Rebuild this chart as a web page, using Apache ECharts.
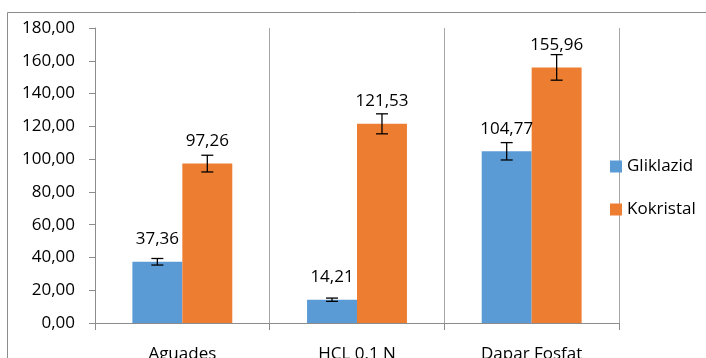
<!DOCTYPE html>
<html>
<head>
<meta charset="utf-8">
<script src="https://cdn.jsdelivr.net/npm/echarts@6/dist/echarts.min.js"></script>
<style>
  html, body { margin: 0; padding: 0; background: #fff; }
  #chart { width: 706px; height: 358px; }
</style>
</head>
<body>
<div id="chart"></div>
<script>
// values
const categories = ["Aguades", "HCL 0.1 N", "Dapar Fosfat"];
const gliklazid = [37.36, 14.21, 104.77];
const kokristal = [97.26, 121.53, 155.96];
// half-length of the error bars (estimated)
const gliklazidErr = [2.0, 1.0, 5.3];
const kokristalErr = [5.1, 6.1, 7.8];

const BAR_PCT = 0.286;
const fontFamily = "'Open Sans', sans-serif";
const fmt = (v) => Number(v).toFixed(2).replace(".", ",");

const errorSeries = (values, errs, side) => ({
  type: "custom",
  silent: true,
  z: 10,
  data: values.map((v, i) => [i, v, errs[i]]),
  renderItem: (params, api) => {
    const idx = api.value(0);
    const catW = api.size([1, 0])[0];
    const offset = side * catW * BAR_PCT / 2;
    const top = api.coord([idx, api.value(1) + api.value(2)]);
    const bottom = api.coord([idx, api.value(1) - api.value(2)]);
    const x = top[0] + offset;
    const half = 6;
    const style = { stroke: "#000", lineWidth: 1.3 };
    return {
      type: "group",
      children: [
        { type: "line", shape: { x1: x, y1: top[1], x2: x, y2: bottom[1] }, style },
        { type: "line", shape: { x1: x - half, y1: top[1], x2: x + half, y2: top[1] }, style },
        { type: "line", shape: { x1: x - half, y1: bottom[1], x2: x + half, y2: bottom[1] }, style }
      ]
    };
  }
});

const chart = echarts.init(document.getElementById("chart"));

const barLabel = {
  show: true,
  position: "top",
  distance: 14,
  color: "#000",
  fontSize: 17,
  fontFamily,
  formatter: (p) => fmt(p.value)
};

chart.setOption({
  animation: false,
  textStyle: { fontFamily },
  graphic: [
    {
      type: "rect",
      shape: { x: 7.5, y: 12.5, width: 720, height: 400 },
      style: { fill: "none", stroke: "#8c8c8c", lineWidth: 1 },
      silent: true
    }
  ],
  grid: { left: 95, right: 87, top: 28, bottom: 35, outerBoundsMode: "none" },
  legend: {
    orient: "vertical",
    left: 610,
    top: 158,
    padding: 0,
    itemWidth: 12,
    itemHeight: 12,
    itemGap: 26,
    icon: "rect",
    textStyle: { color: "#000", fontSize: 17, fontFamily },
    data: ["Gliklazid", "Kokristal"]
  },
  xAxis: {
    type: "category",
    data: categories,
    axisLine: { lineStyle: { color: "#8c8c8c", width: 1 } },
    axisTick: { show: true, length: 7, lineStyle: { color: "#8c8c8c" } },
    splitLine: { show: true, lineStyle: { color: "#a6a6a6", width: 1 } },
    axisLabel: { color: "#000", fontSize: 17, fontFamily, margin: 23 }
  },
  yAxis: {
    type: "value",
    min: 0,
    max: 180,
    interval: 20,
    axisLine: { show: true, lineStyle: { color: "#8c8c8c", width: 1 } },
    axisTick: { show: true, length: 6, lineStyle: { color: "#8c8c8c" } },
    splitLine: { show: false },
    axisLabel: { color: "#000", fontSize: 17, fontFamily, margin: 20, formatter: fmt }
  },
  series: [
    {
      name: "Gliklazid",
      type: "bar",
      data: gliklazid,
      barWidth: (BAR_PCT * 100) + "%",
      barGap: "0%",
      itemStyle: { color: "#5b9bd5" },
      label: barLabel
    },
    {
      name: "Kokristal",
      type: "bar",
      data: kokristal,
      barWidth: (BAR_PCT * 100) + "%",
      barGap: "0%",
      itemStyle: { color: "#ed7d31" },
      label: barLabel
    },
    errorSeries(gliklazid, gliklazidErr, -1),
    errorSeries(kokristal, kokristalErr, 1)
  ]
});
</script>
</body>
</html>
